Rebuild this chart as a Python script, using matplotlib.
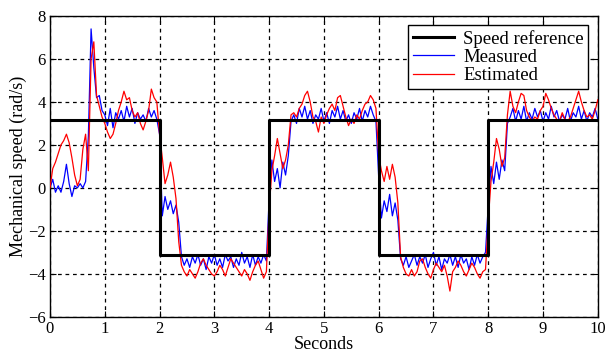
import numpy as np
import matplotlib
matplotlib.use('Agg')
import matplotlib.pyplot as plt

# speed reference (square wave, +/- pi)
ref_t = [0, 2, 4, 6, 8, 10]
ref_v = [3.14, -3.14, 3.14, -3.14, 3.14, 3.14]

# samples every 0.05 s
t = np.linspace(0, 10, 201)

measured = [
    0.0, 0.4, -0.2, 0.1, -0.2, 0.3, 1.1, 0.2, -0.4, 0.1,
    0.0, 0.2, 0.0, 0.3, 2.4, 7.4, 5.6, 4.2, 4.3, 3.6,
    3.4, 2.9, 3.7, 2.8, 3.5, 3.2, 3.6, 3.1, 3.8, 3.3,
    3.7, 3.0, 3.5, 3.2, 3.4, 3.1, 3.7, 3.3, 3.6, 3.2,
    2.5, -1.3, -0.4, -1.0, -0.6, -1.2, -0.8, -1.6, -3.2, -3.6,
    -3.3, -3.7, -3.2, -3.5, -3.1, -3.6, -3.3, -3.8, -3.2, -3.5,
    -3.1, -3.6, -3.3, -3.7, -3.1, -3.4, -3.2, -3.7, -3.3, -3.6,
    -3.0, -3.5, -3.2, -3.7, -3.1, -3.6, -3.2, -3.5, -3.1, -3.4,
    -0.5, 1.3, 0.3, 0.9, 0.0, 1.2, 0.6, 1.5, 3.1, 3.4,
    3.0, 3.7, 3.3, 3.8, 3.2, 3.6, 3.0, 3.4, 3.2, 3.7,
    3.1, 3.5, 3.0, 3.6, 3.3, 3.8, 3.2, 3.6, 3.1, 3.4,
    3.0, 3.5, 3.2, 3.7, 3.1, 3.6, 3.3, 3.8, 3.4, 3.1,
    0.5, -1.4, -0.6, -1.1, -0.3, -1.3, -0.7, -1.5, -3.3, -3.6,
    -3.2, -3.7, -3.4, -3.1, -3.6, -3.2, -3.5, -3.1, -3.7, -3.3,
    -3.0, -3.6, -3.2, -3.8, -3.3, -3.5, -3.1, -3.6, -3.2, -3.7,
    -3.1, -3.5, -3.3, -3.8, -3.2, -3.6, -3.1, -3.5, -3.2, -3.0,
    -0.8, 1.0, 0.2, 1.2, 0.4, 1.3, 0.8, 3.0, 3.3, 3.7,
    3.1, 3.6, 3.2, 3.8, 3.1, 3.5, 3.2, 3.7, 3.3, 3.6,
    3.1, 3.5, 3.2, 3.8, 3.3, 3.6, 3.1, 3.4, 3.2, 3.7,
    3.1, 3.5, 3.3, 3.8, 3.2, 3.6, 3.1, 3.5, 3.3, 3.7,
    3.2,
]

estimated = [
    0.0, 0.9, 1.2, 1.6, 2.0, 2.2, 2.5, 2.1, 1.4, 0.6,
    0.1, 0.4, 1.8, 2.5, 0.8, 6.0, 6.8, 4.3, 3.8, 3.3,
    3.0, 2.6, 2.3, 2.5, 3.0, 3.6, 4.0, 4.5, 4.1, 4.2,
    3.6, 3.3, 3.5, 3.0, 2.7, 3.1, 3.6, 4.6, 4.2, 4.0,
    2.5, 1.4, 0.2, 0.6, 1.2, 0.5, -0.5, -2.5, -3.6, -3.9,
    -4.1, -3.8, -4.0, -4.2, -3.9, -3.5, -3.3, -3.6, -3.8, -4.0,
    -4.1, -3.9, -3.6, -3.8, -4.1, -3.7, -3.3, -3.5, -3.7, -3.9,
    -4.1, -3.8, -4.0, -4.3, -3.9, -3.6, -3.4, -3.8, -4.2, -3.9,
    -1.0, 0.8, 1.5, 2.3, 1.6, 0.9, 1.3, 2.0, 3.4, 3.5,
    3.3, 3.7, 3.9, 4.3, 4.5, 4.0, 3.3, 3.1, 2.6, 3.3,
    3.0, 3.4, 3.7, 3.9, 3.6, 4.2, 4.3, 3.8, 3.3, 2.9,
    3.2, 3.0, 3.4, 3.2, 3.6, 3.9, 4.0, 4.3, 4.1, 3.7,
    1.5, 0.8, 0.3, 1.0, 0.4, 1.1, 0.5, -0.7, -3.2, -3.7,
    -4.0, -4.1, -3.8, -4.1, -3.9, -3.4, -3.3, -3.7, -4.0, -4.2,
    -3.8, -3.5, -3.7, -3.9, -3.6, -4.1, -4.8, -3.9, -3.7, -3.4,
    -3.6, -3.9, -4.1, -3.8, -3.5, -3.7, -4.0, -4.2, -3.9, -3.8,
    -1.5, 0.3, 1.2, 2.3, 1.8, 1.0, 1.4, 3.4, 4.5, 3.8,
    3.5, 4.0, 4.4, 4.3, 3.6, 3.3, 3.1, 3.3, 3.2, 3.6,
    3.8, 4.4, 4.1, 3.7, 3.4, 3.2, 3.1, 3.5, 3.2, 3.1,
    3.3, 3.7, 4.1, 4.5, 4.0, 3.6, 3.3, 3.4, 3.2, 3.6,
    4.1,
]

plt.rcParams['font.family'] = ['Liberation Serif', 'DejaVu Serif']
plt.rcParams['font.size'] = 13

fig = plt.figure(figsize=(6.06, 3.56), dpi=100)
ax = fig.add_axes([0.0825, 0.11, 0.904, 0.845])

ax.plot(ref_t, ref_v, color='black', lw=2.2, drawstyle='steps-post', label='Speed reference', zorder=4)
ax.plot(t, measured, color='blue', lw=0.9, label='Measured', zorder=2)
ax.plot(t, estimated, color='red', lw=0.9, label='Estimated', zorder=3)

ax.set_xlim(0, 10)
ax.set_ylim(-6, 8)
ax.set_xticks(range(0, 11))
ax.set_yticks(range(-6, 9, 2))
ax.grid(True, color='black', linestyle=(0, (3, 3)), lw=0.9)
ax.tick_params(direction='in', length=4, top=True, right=True, pad=3, labelsize=12)
for s in ax.spines.values():
    s.set_linewidth(1.0)
ax.set_xlabel('Seconds', labelpad=-1)
ax.set_ylabel('Mechanical speed (rad/s)', labelpad=1)

leg = ax.legend(loc='upper right', fancybox=False, framealpha=1, edgecolor='black',
                fontsize=13.5, borderaxespad=0.5, handlelength=2.2, handletextpad=0.5,
                labelspacing=0.05, borderpad=0.25)
leg.get_frame().set_linewidth(1.0)
leg.set_zorder(10)

fig.savefig('out.png', dpi=100)
